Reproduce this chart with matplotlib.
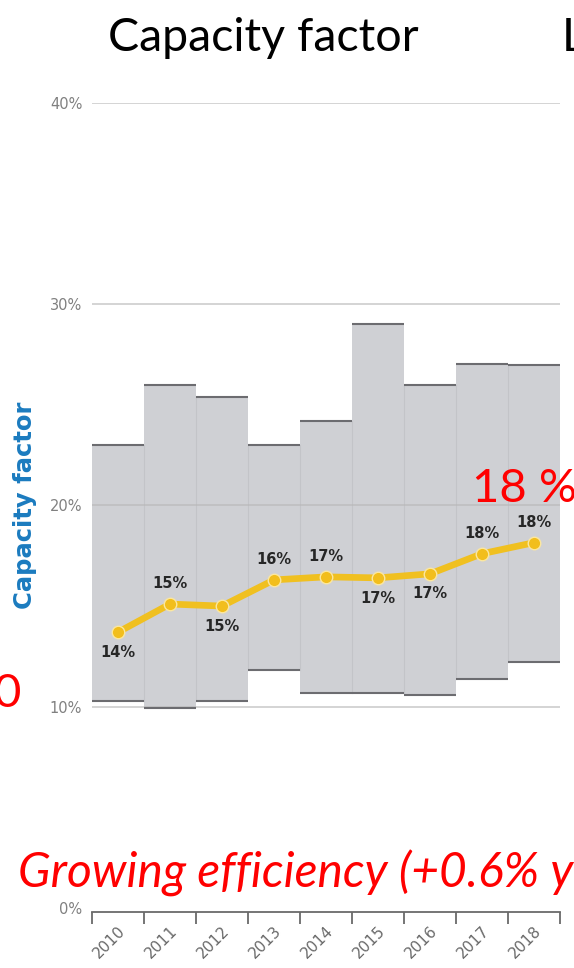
import matplotlib
matplotlib.use("Agg")
import matplotlib.pyplot as plt
import numpy as np

# ---- data ----
years = ["2010", "2011", "2012", "2013", "2014", "2015", "2016", "2017", "2018"]
range_low = [10.3, 9.95, 10.3, 11.8, 10.7, 10.7, 10.6, 11.4, 12.2]
range_high = [23.0, 26.0, 25.4, 23.0, 24.2, 29.0, 26.0, 27.0, 26.95]
cf_mean = [13.7, 15.1, 15.0, 16.3, 16.45, 16.4, 16.6, 17.6, 18.15]
cf_labels = ["14%", "15%", "15%", "16%", "17%", "17%", "17%", "18%", "18%"]
label_above = [False, True, False, True, True, False, False, True, True]
ytick_vals = [0, 10, 20, 30, 40]
ytick_labels = ["0%", "10%", "20%", "30%", "40%"]

W, H = 574, 968
fig = plt.figure(figsize=(W / 100, H / 100), dpi=100)

def fx(x):
    return x / W

def fy(y):
    return 1 - y / H

ax_bottom_px, ax_top_px = 911.7, 102.7
ymin, ymax = -0.18, 40.0
ax = fig.add_axes([fx(92), fy(ax_bottom_px), (560 - 92) / W, (ax_bottom_px - ax_top_px) / H])
ax.set_xlim(-0.5, len(years) - 0.5)
ax.set_ylim(ymin, ymax)

x = np.arange(len(years))
fill = "#cfd0d4"
edge_dark = "#6c6c70"

# range bars
ax.bar(x, np.array(range_high) - np.array(range_low), bottom=range_low, width=1.0,
       color=fill, edgecolor="none", zorder=1)
# faint dividers between bars
for i in range(len(years) - 1):
    lo = max(range_low[i], range_low[i + 1])
    hi = min(range_high[i], range_high[i + 1])
    ax.plot([i + 0.5, i + 0.5], [lo, hi], color="#c3c4c8", lw=0.8, zorder=1.5)
# top / bottom edges
ax.hlines(range_high, x - 0.5, x + 0.5, color=edge_dark, lw=1.5, zorder=2)
ax.hlines(range_low, x - 0.5, x + 0.5, color=edge_dark, lw=1.5, zorder=2)

# gridlines
for v in ytick_vals[1:]:
    ax.axhline(v, color="#b8b8b8", lw=1.2, alpha=0.7, zorder=1.8)

# mean line
ax.plot(x, cf_mean, color="#f0c020", lw=4.8, zorder=3, solid_capstyle="round")
ax.plot(x, cf_mean, "o", ms=9, mfc="#f2be1c", mec="#fbe7a0", mew=1.0, zorder=4)
for xi, v, lab, up in zip(x, cf_mean, cf_labels, label_above):
    ax.annotate(lab, (xi, v), xytext=(0, 14.5 if up else -14.5), textcoords="offset points",
                ha="center", va="center", fontsize=10.5, fontweight="bold", color="#262626", zorder=5)

# axes styling
for s in ["top", "right", "left"]:
    ax.spines[s].set_visible(False)
ax.spines["bottom"].set_color("#6a6a6a")
ax.spines["bottom"].set_linewidth(1.3)
ax.set_yticks(ytick_vals)
ax.set_yticklabels(ytick_labels)
ax.tick_params(axis="y", length=0, pad=7, labelsize=10.5, labelcolor="#808080")
ax.set_xticks(x)
ax.set_xticklabels(years, rotation=45, ha="right", rotation_mode="anchor")
ax.tick_params(axis="x", which="major", length=0, pad=8, labelsize=11, labelcolor="#6a6a6a")
ax.set_xticks(np.arange(len(years) + 1) - 0.5, minor=True)
ax.tick_params(axis="x", which="minor", length=8.5, width=1.3, color="#6a6a6a")

# y axis title
fig.text(fx(25), fy(505), "Capacity factor", rotation=90, ha="center", va="center",
         fontsize=17.5, fontweight="bold", color="#1b7bbf")

# slide texts
fig.text(fx(263), fy(51), "Capacity factor", ha="center", va="baseline",
         fontsize=33.5, family="Lato", color="black")
fig.text(fx(562), fy(51), "LCOE", ha="left", va="baseline",
         fontsize=33.5, family="Lato", color="black")
fig.text(fx(472), fy(502), "18 %", ha="left", va="baseline",
         fontsize=34, family="Lato", color="#ff0000")
fig.text(fx(21), fy(707), "0", ha="right", va="baseline",
         fontsize=34, family="Lato", color="#ff0000")
fig.text(fx(18), fy(888), "Growing efficiency (+0.6% yearly)", ha="left", va="baseline",
         fontsize=34.5, family="Lato", style="italic", color="#ff0000")

fig.savefig("out.png", dpi=100)
